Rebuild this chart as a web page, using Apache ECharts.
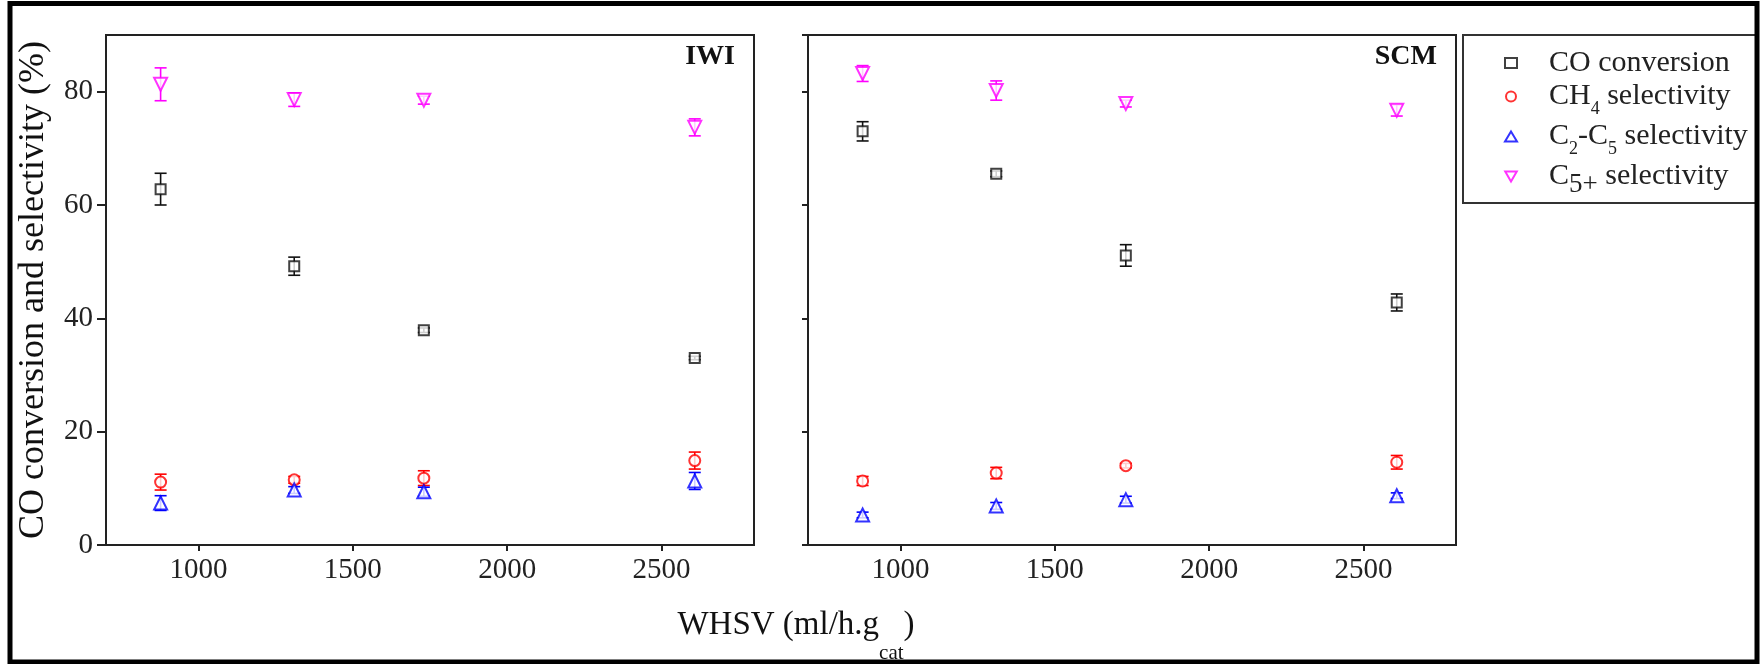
<!DOCTYPE html>
<html>
<head>
<meta charset="utf-8">
<script src="https://cdn.jsdelivr.net/npm/echarts@6/dist/echarts.min.js"></script>
<style>html,body{margin:0;padding:0;background:#fff;}#c{width:1764px;height:664px;}</style>
</head>
<body>
<div id="c"></div>
<script>
// ---- data ----
const whsv = [877, 1310, 1730, 2608];
const seriesNames = ['CO conversion', 'CH4 selectivity', 'C2-C5 selectivity', 'C5+ selectivity'];
// IWI panel
const iwiCO = [62.8, 49.2, 37.9, 33.0];
const iwiCOErr = [2.8, 1.6, 0.4, 0.3];
const iwiCH4 = [11.1, 11.5, 11.8, 14.9];
const iwiCH4Err = [1.4, 0.6, 1.3, 1.5];
const iwiC2C5 = [7.4, 9.7, 9.4, 11.3];
const iwiC2C5Err = [1.3, 0.6, 0.8, 1.5];
const iwiC5p = [81.3, 78.6, 78.5, 73.7];
const iwiC5pErr = [2.9, 1.2, 0.7, 1.5];
// SCM panel
const scmCO = [73.0, 65.5, 51.1, 42.8];
const scmCOErr = [1.7, 0.5, 1.9, 1.5];
const scmCH4 = [11.3, 12.7, 14.0, 14.6];
const scmCH4Err = [0.8, 1.0, 0.4, 1.2];
const scmC2C5 = [5.3, 6.9, 8.0, 8.7];
const scmC2C5Err = [0.5, 0.6, 0.6, 0.5];
const scmC5p = [83.2, 80.2, 77.9, 76.7];
const scmC5pErr = [1.4, 1.7, 0.6, 1.0];
const panelLabels = ['IWI', 'SCM'];

// ---- styling ----
const FONT = 'Liberation Serif';
const AX = '#222';
const colors = ['#111111', '#ff0000', '#0000ff', '#ff00ff'];
const symbols = ['emptyRect', 'emptyCircle', 'emptyTriangle', 'emptyTriangle'];
const rotates = [0, 0, 0, 180];
const sizes = [10, 11, 13, 13];

const panels = [
  [[iwiCO, iwiCOErr], [iwiCH4, iwiCH4Err], [iwiC2C5, iwiC2C5Err], [iwiC5p, iwiC5pErr]],
  [[scmCO, scmCOErr], [scmCH4, scmCH4Err], [scmC2C5, scmC2C5Err], [scmC5p, scmC5pErr]]
];

const series = [];
panels.forEach((panel, p) => {
  panel.forEach(([vals, errs], k) => {
    series.push({
      type: 'custom',
      xAxisIndex: p, yAxisIndex: p,
      z: 1,
      silent: true,
      encode: {x: 0, y: 1},
      data: whsv.map((x, i) => [x, vals[i], errs[i]]),
      renderItem: function (params, api) {
        const x = api.value(0), y = api.value(1), e = api.value(2);
        const t = api.coord([x, y + e]);
        const b = api.coord([x, y - e]);
        const h = 6;
        const st = {stroke: colors[k], lineWidth: 1.6};
        return {
          type: 'group',
          children: [
            {type: 'line', shape: {x1: t[0], y1: t[1], x2: b[0], y2: b[1]}, style: st},
            {type: 'line', shape: {x1: t[0] - h, y1: t[1], x2: t[0] + h, y2: t[1]}, style: st},
            {type: 'line', shape: {x1: b[0] - h, y1: b[1], x2: b[0] + h, y2: b[1]}, style: st}
          ]
        };
      }
    });
    series.push({
      type: 'scatter',
      name: seriesNames[k],
      xAxisIndex: p, yAxisIndex: p,
      z: 3,
      symbol: symbols[k],
      symbolRotate: rotates[k],
      symbolSize: sizes[k],
      itemStyle: {color: colors[k], borderWidth: 2},
      data: whsv.map((x, i) => [x, vals[i]])
    });
  });
});

function xAxis(idx) {
  return {
    type: 'value', gridIndex: idx, min: 700, max: 2800,
    axisLine: {show: true, lineStyle: {color: AX, width: 2}},
    axisTick: {show: true, length: 6, lineStyle: {color: AX, width: 2}},
    axisLabel: {show: true, showMinLabel: false, showMaxLabel: false, margin: 11,
      fontFamily: FONT, fontSize: 29, color: AX, formatter: v => String(v)},
    splitLine: {show: false}
  };
}
function yAxis(idx) {
  return {
    type: 'value', gridIndex: idx, min: 0, max: 90, interval: 20,
    name: idx === 0 ? 'CO conversion and selectivity (%)' : '',
    nameLocation: 'middle', nameGap: 54,
    nameTextStyle: {fontFamily: FONT, fontSize: 36, color: '#111'},
    axisLine: {show: true, lineStyle: {color: AX, width: 2}},
    axisTick: {show: true, length: idx === 0 ? 9 : 6, lineStyle: {color: AX, width: 2}},
    axisLabel: {show: idx === 0, showMaxLabel: false, margin: 13,
      fontFamily: FONT, fontSize: 29, color: AX, formatter: v => String(v)},
    splitLine: {show: false}
  };
}

const legendRich = {
  g: {width: 27, lineHeight: 37},
  n: {fontFamily: FONT, fontSize: 30, color: '#222', lineHeight: 37},
  s: {fontFamily: FONT, fontSize: 18, color: '#222', lineHeight: 15, verticalAlign: 'top', padding: [22, 0, 0, 0]},
  b: {fontFamily: FONT, fontSize: 27, color: '#222', lineHeight: 24, verticalAlign: 'top', padding: [13, 0, 0, 0]}
};
const legendText = {
  'CO conversion': '{g| }{n|CO conversion}',
  'CH4 selectivity': '{g| }{n|CH}{s|4}{n| selectivity}',
  'C2-C5 selectivity': '{g| }{n|C}{s|2}{n|-C}{s|5}{n| selectivity}',
  'C5+ selectivity': '{g| }{n|C}{b|5+}{n| selectivity}'
};
const legendData = seriesNames.map((n, k) => k === 3
  ? {name: n, icon: 'path://M0,0L12,0L6,10.4Z',
     itemStyle: {color: '#fff', borderColor: colors[k], borderWidth: 2}}
  : {name: n});

const option = {
  animation: false,
  backgroundColor: '#fff',
  grid: [
    {left: 106, top: 35, width: 648, height: 510, show: true, borderColor: AX, borderWidth: 2, backgroundColor: 'transparent'},
    {left: 808, top: 35, width: 648, height: 510, show: true, borderColor: AX, borderWidth: 2, backgroundColor: 'transparent'}
  ],
  xAxis: [xAxis(0), xAxis(1)],
  yAxis: [yAxis(0), yAxis(1)],
  title: [
    {text: panelLabels[0], right: 1029, top: 43, padding: 0,
      textStyle: {fontFamily: FONT, fontWeight: 'bold', fontSize: 28, color: '#111'}},
    {text: panelLabels[1], right: 327, top: 43, padding: 0,
      textStyle: {fontFamily: FONT, fontWeight: 'bold', fontSize: 28, color: '#111'}},
    {text: '{n|WHSV (ml/h.g}{s|cat}{n|)}', left: 796, textAlign: 'center', top: 609, padding: 0,
      textStyle: {fontWeight: 'normal', rich: {
        n: {fontFamily: FONT, fontSize: 33, fontWeight: 'normal', color: '#111', lineHeight: 36, verticalAlign: 'top'},
        s: {fontFamily: FONT, fontSize: 21, fontWeight: 'normal', color: '#111', lineHeight: 20, verticalAlign: 'top', padding: [34, 0, 0, 0]}
      }}}
  ],
  legend: {
    data: legendData,
    orient: 'vertical',
    left: 1504, top: 48, padding: 0,
    itemWidth: 12, itemHeight: 10, itemGap: 0,
    textStyle: {fontFamily: FONT, fontSize: 30, color: '#222', rich: legendRich},
    formatter: function (name) { return legendText[name]; }
  },
  graphic: [
    {type: 'rect', z: 100, silent: true, shape: {x: 1463, y: 35, width: 294, height: 168},
      style: {fill: 'none', stroke: '#333', lineWidth: 2}},
    {type: 'rect', z: 100, silent: true, shape: {x: 10, y: 3.5, width: 1747, height: 658.5},
      style: {fill: 'none', stroke: '#000', lineWidth: 5}}
  ],
  series: series
};

const chart = echarts.init(document.getElementById('c'), null, {renderer: 'canvas'});
chart.setOption(option);
</script>
</body>
</html>
